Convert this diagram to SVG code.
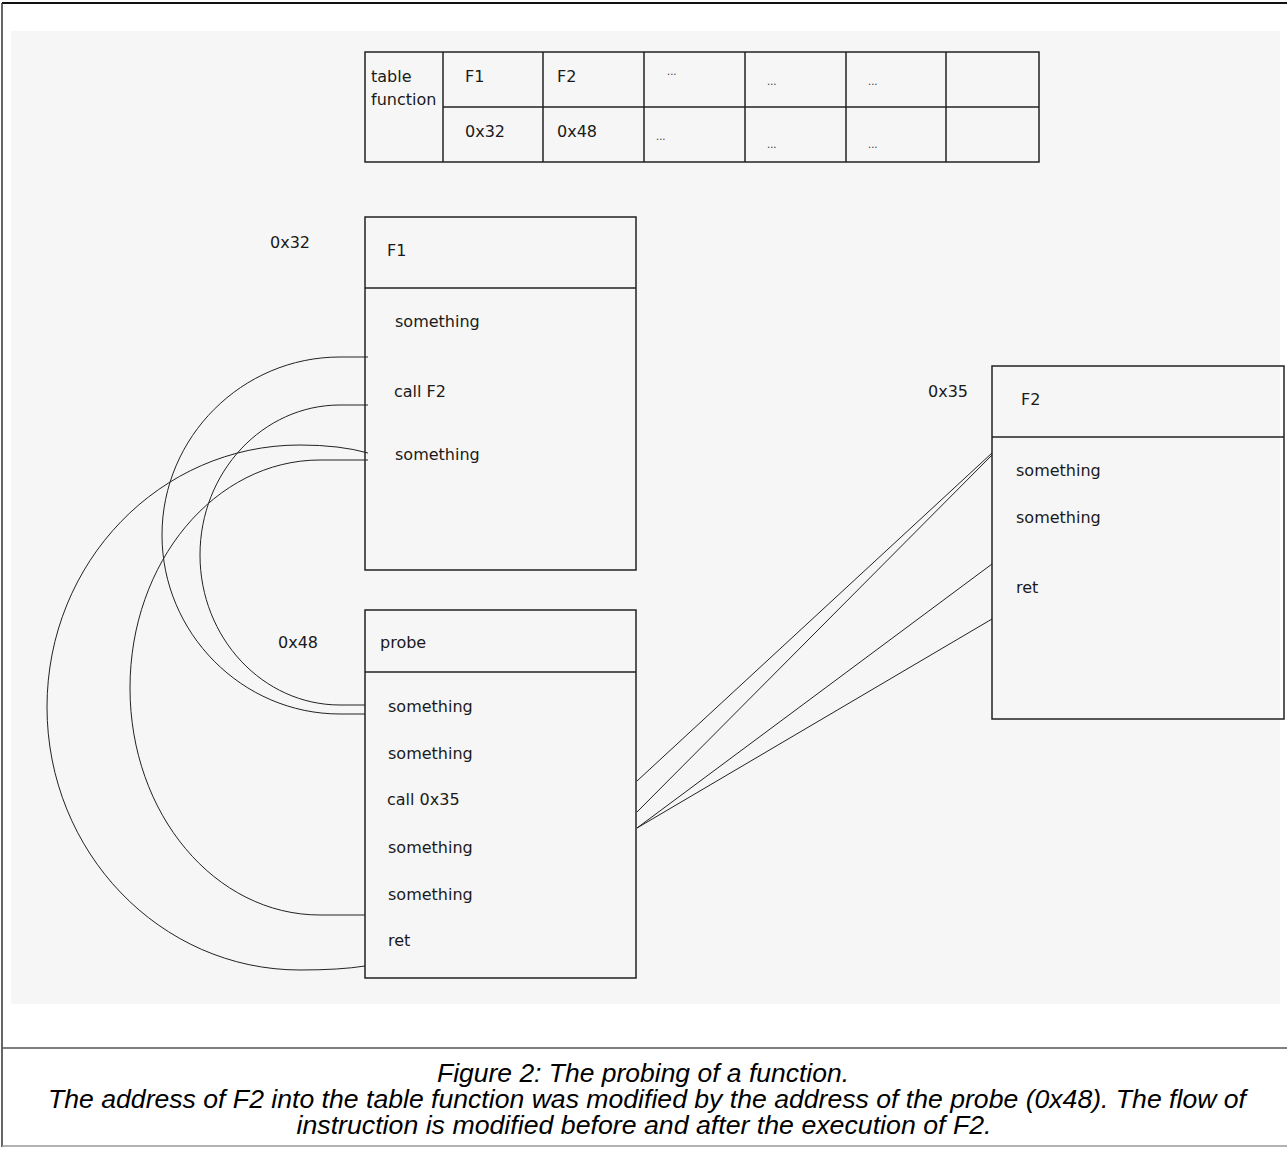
<svg xmlns="http://www.w3.org/2000/svg" width="1287" height="1156" viewBox="0 0 1287 1156">
<style>
.box{fill:none;stroke:#222;stroke-width:1.5}
.ln{fill:none;stroke:#222;stroke-width:1}
.t{font-family:"DejaVu Sans",sans-serif;font-size:16px;fill:#1a1a1a}
.s{font-family:"DejaVu Sans",sans-serif;font-size:10px;fill:#333}
.cap{font-family:"Liberation Sans",Arial,sans-serif;font-style:italic;font-size:25px;fill:#000;text-anchor:middle}
</style>
<rect x="0" y="0" width="1287" height="1156" fill="#fff"/>
<rect x="11" y="31" width="1269" height="973" fill="#f6f6f6"/>
<g id="frame">
<line x1="2" y1="3" x2="1287" y2="3" stroke="#111" stroke-width="2"/>
<line x1="2" y1="3" x2="2" y2="1147" stroke="#333" stroke-width="1.5"/>
<line x1="2" y1="1048" x2="1287" y2="1048" stroke="#555" stroke-width="1.5"/>
<line x1="2" y1="1146" x2="1287" y2="1146" stroke="#999" stroke-width="1.5"/>
</g>
<g id="table">
<rect class="box" x="365" y="52" width="674" height="110"/>
<line class="box" x1="443" y1="107" x2="1039" y2="107"/>
<line class="box" x1="443" y1="52" x2="443" y2="162"/>
<line class="box" x1="543" y1="52" x2="543" y2="162"/>
<line class="box" x1="644" y1="52" x2="644" y2="162"/>
<line class="box" x1="745" y1="52" x2="745" y2="162"/>
<line class="box" x1="846" y1="52" x2="846" y2="162"/>
<line class="box" x1="946" y1="52" x2="946" y2="162"/>
<text class="t" x="371" y="82">table</text>
<text class="t" x="371" y="105">function</text>
<text class="t" x="465" y="82">F1</text>
<text class="t" x="557" y="82">F2</text>
<text class="s" x="667" y="75">...</text>
<text class="s" x="767" y="85">...</text>
<text class="s" x="868" y="85">...</text>
<text class="t" x="465" y="137">0x32</text>
<text class="t" x="557" y="137">0x48</text>
<text class="s" x="656" y="140">...</text>
<text class="s" x="767" y="148">...</text>
<text class="s" x="868" y="148">...</text>
</g>
<g id="F1">
<rect class="box" x="365" y="217" width="271" height="353"/>
<line class="box" x1="365" y1="288" x2="636" y2="288"/>
<text class="t" x="270" y="248">0x32</text>
<text class="t" x="387" y="256">F1</text>
<text class="t" x="395" y="327">something</text>
<text class="t" x="394" y="397">call F2</text>
<text class="t" x="395" y="460">something</text>
</g>
<g id="probe">
<rect class="box" x="365" y="610" width="271" height="368"/>
<line class="box" x1="365" y1="672" x2="636" y2="672"/>
<text class="t" x="278" y="648">0x48</text>
<text class="t" x="380" y="648">probe</text>
<text class="t" x="388" y="712">something</text>
<text class="t" x="388" y="759">something</text>
<text class="t" x="387" y="805">call 0x35</text>
<text class="t" x="388" y="853">something</text>
<text class="t" x="388" y="900">something</text>
<text class="t" x="388" y="946">ret</text>
</g>
<g id="F2">
<rect class="box" x="992" y="366" width="292" height="353"/>
<line class="box" x1="992" y1="437" x2="1284" y2="437"/>
<text class="t" x="928" y="397">0x35</text>
<text class="t" x="1021" y="405">F2</text>
<text class="t" x="1016" y="476">something</text>
<text class="t" x="1016" y="523">something</text>
<text class="t" x="1016" y="593">ret</text>
</g>
<g id="connectors">
<path class="ln" d="M368 357 L340 357 C242 357 162 437 162 535 C162 633 242 714 340 714 L365 714"/>
<path class="ln" d="M368 405 L340 405 C263 405 200 472 200 555 C200 638 263 705 340 705 L365 705"/>
<path class="ln" d="M368 453 Q340 445 300 445 C160 445 47 562 47 707 C47 852 160 970 300 970 Q340 970 365 966"/>
<path class="ln" d="M368 460 L320 460 C215 460 130 562 130 688 C130 814 215 915 320 915 L365 915"/>
<line class="ln" x1="637" y1="781" x2="992" y2="453"/>
<line class="ln" x1="637" y1="812" x2="992" y2="455"/>
<line class="ln" x1="637" y1="828" x2="992" y2="564"/>
<line class="ln" x1="637" y1="828" x2="992" y2="619"/>
</g>
<g id="caption">
<text class="cap" x="643" y="1082" textLength="412" lengthAdjust="spacingAndGlyphs">Figure 2: The probing of a function.</text>
<text class="cap" x="647" y="1108" textLength="1198" lengthAdjust="spacingAndGlyphs">The address of F2 into the table function was modified by the address of the probe (0x48). The flow of</text>
<text class="cap" x="644" y="1134" textLength="695" lengthAdjust="spacingAndGlyphs">instruction is modified before and after the execution of F2.</text>
</g>
</svg>
